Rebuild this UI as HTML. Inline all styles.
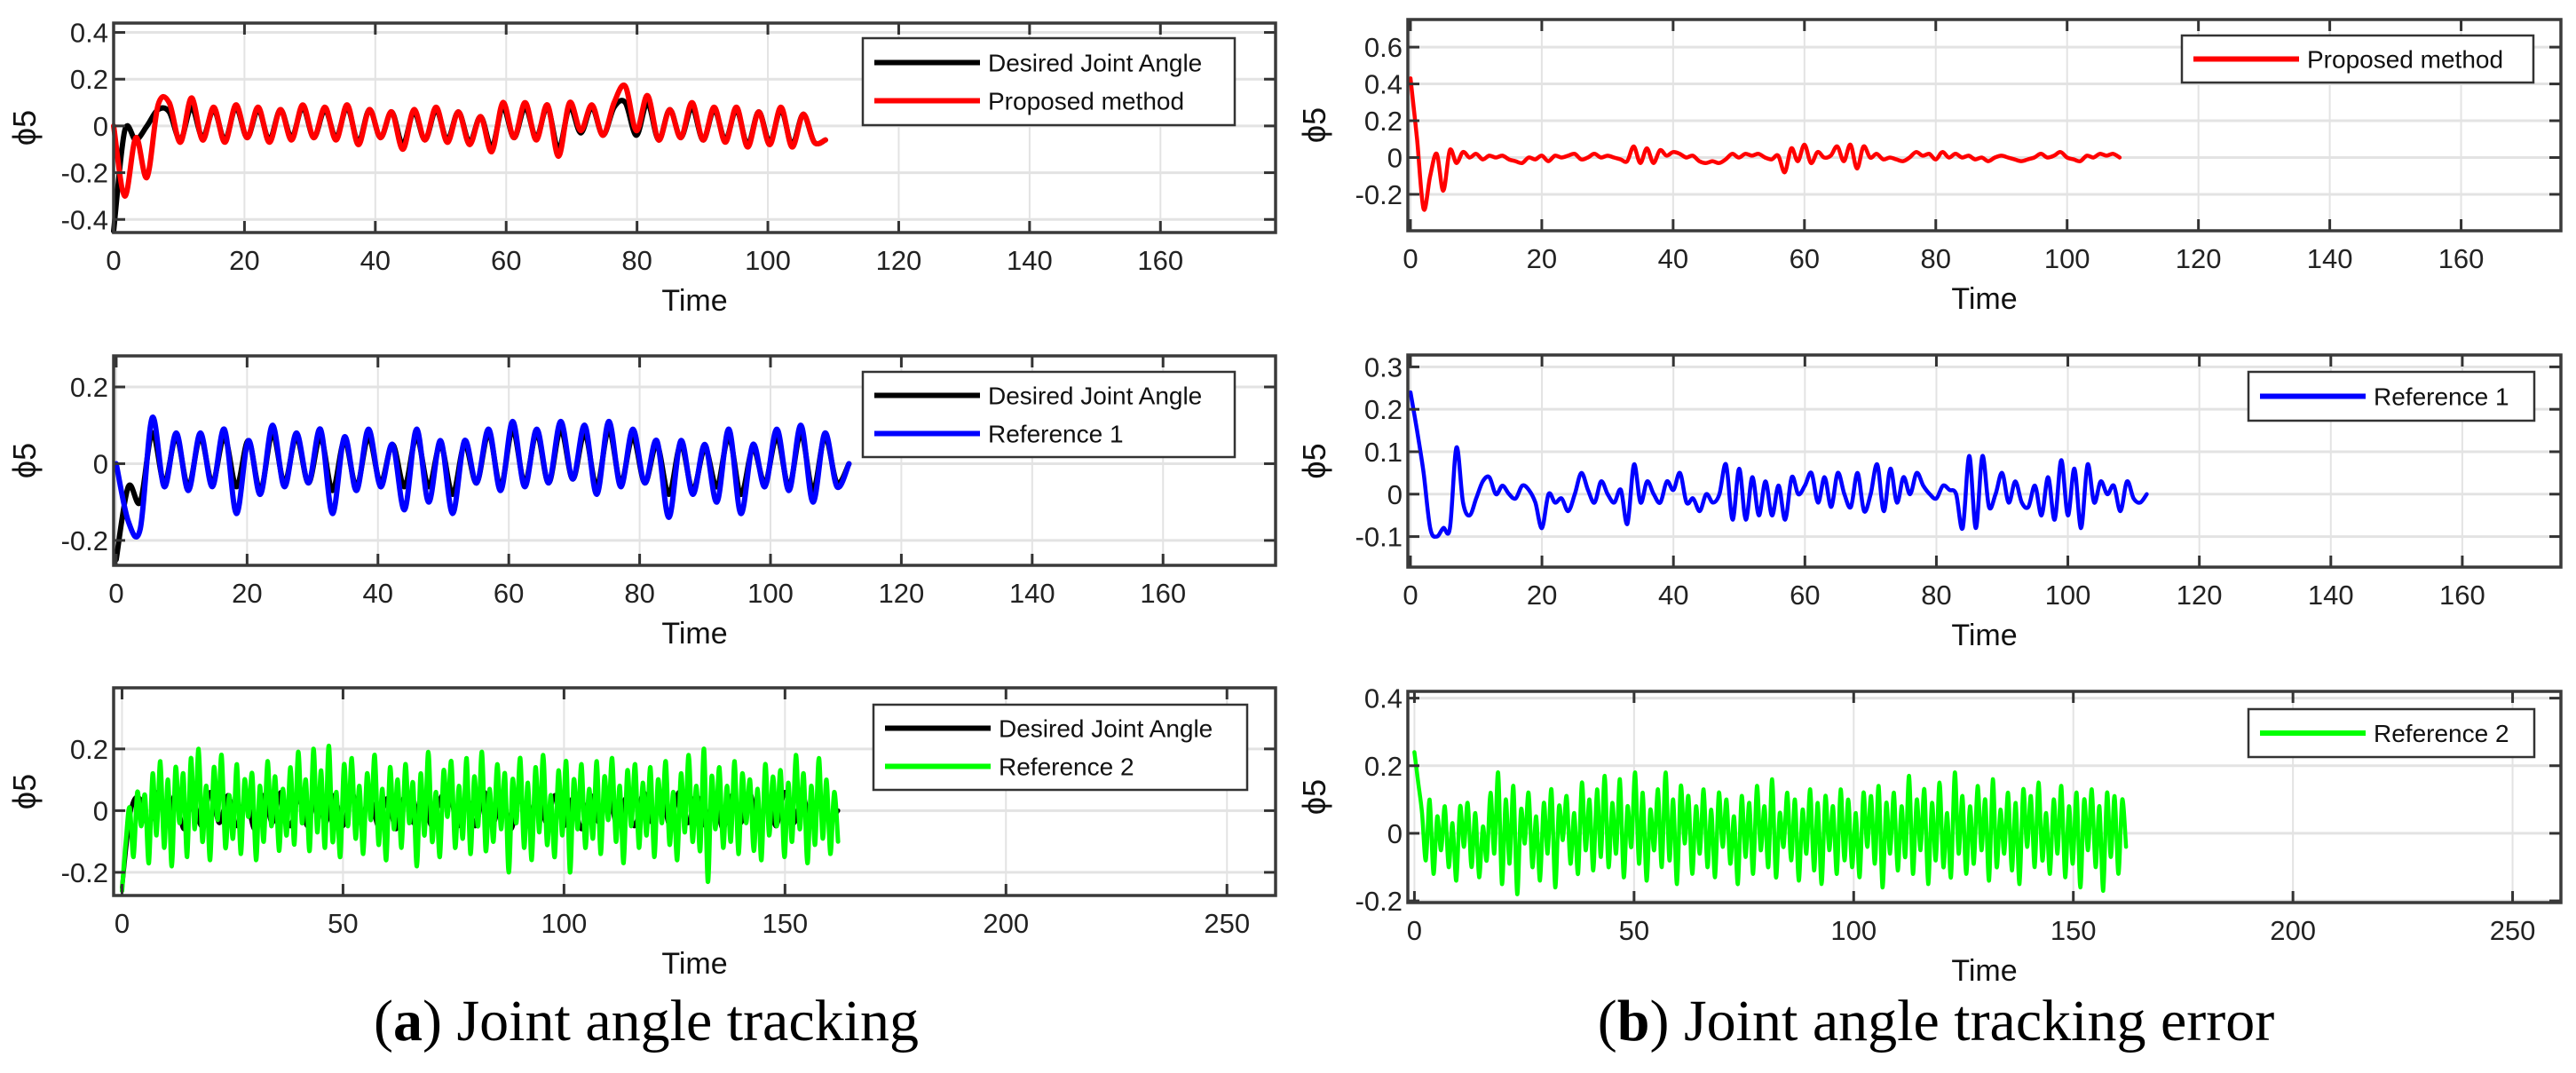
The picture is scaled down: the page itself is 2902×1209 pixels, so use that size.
<!DOCTYPE html>
<html><head><meta charset="utf-8"><style>
html,body{margin:0;padding:0;background:#fff;}
svg{display:block;font-family:"Liberation Sans",Arial,sans-serif;}
</style></head><body>
<svg id="fig" width="2902" height="1209" viewBox="0 0 2902 1209" xmlns="http://www.w3.org/2000/svg">
<text x="728" y="1172" text-anchor="middle" font-family="Liberation Serif, serif" font-size="66">(<tspan font-weight="bold">a</tspan>) Joint angle tracking</text>
<text x="2181" y="1172" text-anchor="middle" font-family="Liberation Serif, serif" font-size="66">(<tspan font-weight="bold">b</tspan>) Joint angle tracking error</text>
</svg>
<script>
// ---- data ----
const a1End = 108.8;
const a1Desired = [-0.45,-0.02,-0.06,0.0,0.07,0.06,-0.06,0.08,-0.05,0.07,-0.06,0.08,-0.05,0.07,-0.06,0.07,-0.05,0.08,-0.05,0.07,-0.05,0.08,-0.07,0.07,-0.05,0.06,-0.08,0.06,-0.06,0.07,-0.06,0.06,-0.07,0.04,-0.09,0.08,-0.05,0.08,-0.05,0.08,-0.1,0.08,-0.03,0.08,-0.04,0.08,0.1,-0.04,0.1,-0.06,0.07,-0.05,0.08,-0.06,0.07,-0.06,0.07,-0.08,0.06,-0.07,0.07,-0.08,0.05,-0.07,-0.06];
const a1Proposed = [0.0,-0.3,-0.05,-0.22,0.09,0.1,-0.07,0.12,-0.06,0.08,-0.07,0.09,-0.05,0.08,-0.07,0.07,-0.06,0.09,-0.05,0.08,-0.06,0.09,-0.08,0.07,-0.05,0.06,-0.1,0.07,-0.06,0.08,-0.07,0.06,-0.08,0.04,-0.11,0.1,-0.05,0.1,-0.06,0.09,-0.13,0.1,-0.02,0.09,-0.04,0.1,0.17,-0.02,0.13,-0.06,0.07,-0.05,0.1,-0.06,0.08,-0.07,0.08,-0.09,0.06,-0.08,0.08,-0.09,0.05,-0.07,-0.06];
const a2End = 112;
const a2Desired = [-0.25,-0.06,-0.1,0.08,-0.05,0.07,-0.06,0.07,-0.05,0.07,-0.06,0.06,-0.07,0.08,-0.05,0.07,-0.05,0.07,-0.07,0.06,-0.06,0.07,-0.05,0.05,-0.06,0.07,-0.06,0.05,-0.08,0.05,-0.05,0.08,-0.06,0.09,-0.05,0.08,-0.05,0.09,-0.04,0.08,-0.06,0.09,-0.05,0.07,-0.05,0.05,-0.08,0.05,-0.07,0.04,-0.06,0.07,-0.08,0.04,-0.05,0.07,-0.06,0.08,-0.07,0.07,-0.05,0.0];
const a2Reference1 = [0.0,-0.15,-0.17,0.12,-0.06,0.08,-0.07,0.08,-0.06,0.09,-0.13,0.06,-0.08,0.1,-0.06,0.08,-0.05,0.09,-0.13,0.07,-0.07,0.09,-0.06,0.05,-0.12,0.09,-0.1,0.06,-0.13,0.06,-0.05,0.09,-0.07,0.11,-0.06,0.09,-0.05,0.11,-0.04,0.1,-0.08,0.11,-0.06,0.09,-0.05,0.06,-0.14,0.06,-0.08,0.05,-0.1,0.09,-0.13,0.05,-0.06,0.09,-0.07,0.1,-0.1,0.08,-0.06,0.0];
const a3End = 162;
const a3Desired = [-0.25,0.0,0.04,-0.05,0.06,-0.04,0.05,-0.06,0.04,-0.05,0.06,-0.04,0.05,-0.05,0.04,-0.06,0.05,-0.04,0.06,-0.05,0.04,-0.05,0.06,-0.04,0.05,-0.05,0.06,-0.04,0.05,-0.05,0.04,-0.06,0.05,-0.04,0.06,-0.05,0.04,0.06,-0.05,0.04,-0.05,0.06,-0.04,0.05,-0.06,0.04,-0.05,0.06,-0.04,0.05,-0.05,0.04,-0.06,0.05,-0.04,0.06,-0.05,0.04,-0.05,0.06,-0.04,0.05,-0.05,0.06,-0.04,0.05,-0.05,0.04,-0.06,0.05,-0.04,0.06,-0.05,0.04,-0.05,0.06,-0.04,0.05,-0.05,0.04,-0.03,0.0];
const a3Reference2 = [-0.26,-0.1,0.01,-0.15,0.06,-0.05,0.05,-0.17,0.12,-0.08,0.16,-0.12,0.1,-0.18,0.14,-0.04,0.12,-0.15,0.17,-0.06,0.2,-0.1,0.08,-0.16,0.14,-0.03,0.18,-0.12,0.05,-0.09,0.15,-0.14,0.1,-0.02,0.12,-0.16,0.08,-0.1,0.16,-0.05,0.11,-0.13,0.07,-0.08,0.14,-0.11,0.19,-0.04,0.1,-0.13,0.2,-0.07,0.13,-0.12,0.21,-0.1,0.06,-0.15,0.15,-0.05,0.17,-0.09,0.08,-0.14,0.12,-0.03,0.18,-0.11,0.07,-0.16,0.14,-0.06,0.1,-0.12,0.15,-0.04,0.09,-0.18,0.12,-0.08,0.19,-0.1,0.06,-0.15,0.13,-0.02,0.16,-0.12,0.08,-0.09,0.17,-0.14,0.11,-0.05,0.19,-0.13,0.07,-0.1,0.15,-0.06,0.12,-0.2,0.1,-0.04,0.17,-0.12,0.09,-0.16,0.14,-0.07,0.18,-0.11,0.05,-0.15,0.13,-0.08,0.16,-0.2,0.1,-0.06,0.15,-0.12,0.07,-0.09,0.16,-0.14,0.11,-0.03,0.17,-0.1,0.08,-0.17,0.13,-0.05,0.15,-0.12,0.09,-0.08,0.14,-0.15,0.1,-0.04,0.16,-0.11,0.06,-0.16,0.12,-0.07,0.18,-0.1,0.08,-0.13,0.2,-0.23,0.11,-0.06,0.14,-0.12,0.08,-0.1,0.16,-0.14,0.12,-0.04,0.1,-0.13,0.07,-0.16,0.15,-0.08,0.11,-0.05,0.13,-0.15,0.09,-0.1,0.18,-0.06,0.12,-0.17,0.08,-0.11,0.17,-0.09,0.1,-0.14,0.06,-0.1];
const b1End = 108;
const b1Proposed = [0.43,0.1,-0.28,-0.1,0.02,-0.18,0.04,-0.03,0.03,0.0,0.02,-0.01,0.01,0.0,0.01,-0.01,-0.02,-0.03,0.0,-0.01,0.01,-0.02,0.01,0.0,0.01,0.02,-0.01,0.0,0.02,0.0,0.01,0.0,-0.01,-0.02,0.06,-0.03,0.05,-0.03,0.04,0.01,0.03,0.02,0.0,0.01,-0.02,-0.03,-0.02,-0.03,-0.01,0.02,0.0,0.02,0.01,0.02,0.0,-0.01,0.01,-0.08,0.05,-0.02,0.07,-0.03,0.03,0.0,0.01,0.06,-0.02,0.07,-0.06,0.06,0.0,0.02,-0.01,0.0,-0.01,-0.02,0.0,0.03,0.01,0.02,-0.01,0.03,0.0,0.02,0.0,0.01,-0.01,0.0,-0.02,0.0,0.01,0.0,-0.01,-0.02,-0.01,0.0,0.02,0.0,0.01,0.03,0.0,-0.01,-0.02,0.01,0.0,0.02,0.01,0.02,0.0];
const b2End = 112;
const b2Reference1 = [0.24,0.15,0.05,-0.08,-0.1,-0.08,-0.08,0.11,-0.02,-0.05,-0.01,0.03,0.04,0.0,0.02,0.0,-0.01,0.02,0.01,-0.02,-0.08,0.0,-0.02,-0.01,-0.04,0.0,0.05,0.01,-0.02,0.03,0.0,-0.02,0.01,-0.07,0.07,-0.02,0.03,0.0,-0.02,0.03,0.01,0.05,-0.02,-0.01,-0.04,0.0,-0.02,0.0,0.07,-0.06,0.06,-0.06,0.04,-0.05,0.03,-0.05,0.02,-0.06,0.04,0.0,0.02,0.05,-0.02,0.04,-0.03,0.05,0.0,-0.03,0.05,-0.04,0.0,0.07,-0.04,0.06,-0.02,0.04,0.0,0.05,0.02,0.0,-0.01,0.02,0.01,0.0,-0.08,0.09,-0.08,0.09,-0.03,0.0,0.05,-0.02,0.03,-0.02,-0.03,0.02,-0.05,0.04,-0.06,0.08,-0.05,0.06,-0.08,0.07,-0.02,0.03,0.0,0.02,-0.04,0.03,-0.01,-0.02,0.0];
const b3End = 162;
const b3Reference2 = [0.24,0.15,0.06,-0.08,0.1,-0.12,0.05,-0.05,0.08,-0.1,0.03,-0.14,0.08,-0.04,0.09,-0.1,0.06,-0.13,0.02,-0.08,0.12,-0.06,0.18,-0.15,0.1,-0.09,0.14,-0.18,0.07,-0.03,0.12,-0.1,0.05,-0.14,0.09,-0.06,0.13,-0.16,0.08,-0.02,0.11,-0.09,0.06,-0.12,0.15,-0.05,0.1,-0.11,0.13,-0.07,0.17,-0.1,0.09,-0.06,0.16,-0.13,0.08,-0.04,0.18,-0.09,0.12,-0.14,0.07,-0.05,0.13,-0.1,0.18,-0.08,0.1,-0.15,0.14,-0.03,0.11,-0.12,0.08,-0.06,0.13,-0.1,0.07,-0.13,0.12,-0.04,0.1,-0.09,0.05,-0.15,0.11,-0.07,0.09,-0.12,0.14,-0.05,0.08,-0.1,0.16,-0.13,0.06,-0.04,0.12,-0.08,0.1,-0.14,0.07,-0.06,0.13,-0.11,0.09,-0.15,0.11,-0.05,0.08,-0.12,0.13,-0.08,0.1,-0.1,0.06,-0.13,0.12,-0.04,0.11,-0.09,0.14,-0.16,0.09,-0.06,0.12,-0.11,0.08,-0.07,0.17,-0.12,0.1,-0.05,0.13,-0.15,0.09,-0.08,0.15,-0.1,0.06,-0.13,0.18,-0.06,0.11,-0.12,0.08,-0.09,0.14,-0.05,0.1,-0.14,0.16,-0.1,0.07,-0.06,0.12,-0.11,0.09,-0.15,0.13,-0.04,0.11,-0.1,0.15,-0.08,0.06,-0.12,0.1,-0.06,0.14,-0.13,0.08,-0.09,0.12,-0.16,0.1,-0.05,0.13,-0.1,0.08,-0.17,0.12,-0.07,0.11,-0.12,0.1,-0.04];
// tick labels
const xTicks175 = [0,20,40,60,80,100,120,140,160];
const xTicks260 = [0,50,100,150,200,250];
const yTicksA1 = [-0.4,-0.2,0,0.2,0.4];
const yTicksA2 = [-0.2,0,0.2];
const yTicksA3 = [-0.2,0,0.2];
const yTicksB1 = [-0.2,0,0.2,0.4,0.6];
const yTicksB2 = [-0.1,0,0.1,0.2,0.3];
const yTicksB3 = [-0.2,0,0.2,0.4];

const NS = "http://www.w3.org/2000/svg";
const svg = document.getElementById('fig');
function mk(tag, attrs, parent){
  const e = document.createElementNS(NS, tag);
  for (const k in attrs) e.setAttribute(k, attrs[k]);
  (parent||svg).appendChild(e);
  return e;
}
function fmt(v){ if (Math.abs(v)<1e-9) return "0"; return String(v); }
function smoothPath(pts){
  let d = 'M' + pts[0][0].toFixed(1) + ',' + pts[0][1].toFixed(1);
  for (let i = 0; i < pts.length - 1; i++) {
    const p0 = pts[Math.max(0,i-1)], p1 = pts[i], p2 = pts[i+1], p3 = pts[Math.min(pts.length-1,i+2)];
    const c1x = p1[0] + (p2[0]-p0[0])/6, c1y = p1[1] + (p2[1]-p0[1])/6;
    const c2x = p2[0] - (p3[0]-p1[0])/6, c2y = p2[1] - (p3[1]-p1[1])/6;
    d += 'C' + c1x.toFixed(1) + ',' + c1y.toFixed(1) + ' ' + c2x.toFixed(1) + ',' + c2y.toFixed(1) + ' ' + p2[0].toFixed(1) + ',' + p2[1].toFixed(1);
  }
  return d;
}

function panel(p){
  const g = mk('g', {});
  
  
  const sx = v => p.L + (v - p.x0) / (p.x1 - p.x0) * (p.R - p.L);
  const sy = v => p.B - (v - p.y0) / (p.y1 - p.y0) * (p.B - p.T);
  mk('rect', {x:p.L, y:p.T, width:p.R-p.L, height:p.B-p.T, fill:'#fff'}, g);
  p.xt.forEach(v => { const l = mk('line', {x1:sx(v), x2:sx(v), y1:p.T, y2:p.B, stroke:'#e3e3e3', 'stroke-width':2}, g);
      });
  p.yt.forEach(v => { const l = mk('line', {x1:p.L, x2:p.R, y1:sy(v), y2:sy(v), stroke:'#e3e3e3', 'stroke-width':3}, g);
      });
  p.series.forEach(s => {
    const dt = s.end / (s.vals.length - 1);
    const pts = s.vals.map((v,i) => [sx(i*dt), sy(v)]);
    const path = mk('path', {d:smoothPath(pts), fill:'none', stroke:s.color, 'stroke-width':s.w, 'stroke-linejoin':'round', 'stroke-linecap':'round'}, g);
    
    
  });
  p.xt.forEach(v => {
    mk('line', {x1:sx(v), x2:sx(v), y1:p.T, y2:p.T+13, stroke:'#333', 'stroke-width':3}, g);
    mk('line', {x1:sx(v), x2:sx(v), y1:p.B, y2:p.B-13, stroke:'#333', 'stroke-width':3}, g);
    const t = mk('text', {x:sx(v), y:p.B+42, 'text-anchor':'middle', 'font-size':31, fill:'#222'}, g);
    t.textContent = fmt(v);
    
    
  });
  p.yt.forEach(v => {
    mk('line', {x1:p.L, x2:p.L+13, y1:sy(v), y2:sy(v), stroke:'#333', 'stroke-width':3}, g);
    mk('line', {x1:p.R, x2:p.R-13, y1:sy(v), y2:sy(v), stroke:'#333', 'stroke-width':3}, g);
    const t = mk('text', {x:p.L-6, y:sy(v)+11, 'text-anchor':'end', 'font-size':31, fill:'#222'}, g);
    t.textContent = fmt(v);
    
    
  });
  mk('rect', {x:p.L, y:p.T, width:p.R-p.L, height:p.B-p.T, fill:'none', stroke:'#3a3a3a', 'stroke-width':3.5}, g);
  const xl = mk('text', {x:(p.L+p.R)/2, y:p.B+88, 'text-anchor':'middle', 'font-size':34, fill:'#111'}, g);
  xl.textContent = 'Time';
  
  
  const cy = (p.T+p.B)/2;
  const yl = mk('text', {x:p.ylx, y:cy, 'text-anchor':'middle', 'font-size':36, fill:'#111', transform:'rotate(-90 '+p.ylx+' '+cy+')'}, g);
  yl.textContent = 'ϕ5';
  
  
  const lg = p.leg;
  const lgG = mk('g', {}, g);
  
  
  mk('rect', {x:lg.x, y:lg.y, width:lg.w, height:lg.h, fill:'#fff', stroke:'#333', 'stroke-width':2.5}, lgG);
  lg.items.forEach((it, i) => {
    const ry = lg.y + lg.h/2 + (i - (lg.items.length-1)/2) * 43;
    const ln = mk('line', {x1:lg.x+13, x2:lg.x+132, y1:ry, y2:ry, stroke:it.color, 'stroke-width':6}, lgG);
    
    
    const tx = mk('text', {x:lg.x+141, y:ry+10, 'font-size':28, fill:'#111'}, lgG);
    tx.textContent = it.label;
    
    
  });
}

const leftL = 128, leftR = 1437, rightL = 1586, rightR = 2885;
panel({name:'panel-a1', L:leftL, R:leftR, T:26, B:262, x0:0, x1:177.6, y0:-0.456, y1:0.44, xt:xTicks175, yt:yTicksA1, ylx:40,
  series:[{name:'desired-line-a1', vals:a1Desired, end:a1End, color:'#000', w:6},{name:'proposed-line-a1', vals:a1Proposed, end:a1End, color:'#ff0000', w:6}],
  leg:{x:972, y:43, w:419, h:98, items:[{label:'Desired Joint Angle', color:'#000'},{label:'Proposed method', color:'#ff0000'}]}});
panel({name:'panel-a2', L:leftL, R:leftR, T:401, B:637, x0:-0.4, x1:177.2, y0:-0.265, y1:0.281, xt:xTicks175, yt:yTicksA2, ylx:40,
  series:[{name:'desired-line-a2', vals:a2Desired, end:a2End, color:'#000', w:6},{name:'reference1-line-a2', vals:a2Reference1, end:a2End, color:'#0000ff', w:6}],
  leg:{x:972, y:419, w:419, h:96, items:[{label:'Desired Joint Angle', color:'#000'},{label:'Reference 1', color:'#0000ff'}]}});
panel({name:'panel-a3', L:leftL, R:leftR, T:775, B:1009, x0:-1.9, x1:261, y0:-0.275, y1:0.398, xt:xTicks260, yt:yTicksA3, ylx:40,
  series:[{name:'desired-line-a3', vals:a3Desired, end:a3End, color:'#000', w:5},{name:'reference2-line-a3', vals:a3Reference2, end:a3End, color:'#00ff00', w:5}],
  leg:{x:984, y:794, w:421, h:96, items:[{label:'Desired Joint Angle', color:'#000'},{label:'Reference 2', color:'#00ff00'}]}});
panel({name:'panel-b1', L:rightL, R:rightR, T:22, B:260, x0:-0.4, x1:175.2, y0:-0.398, y1:0.75, xt:xTicks175, yt:yTicksB1, ylx:1493,
  series:[{name:'proposed-error-line', vals:b1Proposed, end:b1End, color:'#ff0000', w:4.5}],
  leg:{x:2458, y:40, w:396, h:53, items:[{label:'Proposed method', color:'#ff0000'}]}});
panel({name:'panel-b2', L:rightL, R:rightR, T:400, B:639, x0:-0.4, x1:175, y0:-0.172, y1:0.328, xt:xTicks175, yt:yTicksB2, ylx:1493,
  series:[{name:'reference1-error-line', vals:b2Reference1, end:b2End, color:'#0000ff', w:4.5}],
  leg:{x:2533, y:419, w:322, h:55, items:[{label:'Reference 1', color:'#0000ff'}]}});
panel({name:'panel-b3', L:rightL, R:rightR, T:779, B:1017, x0:-1.5, x1:261, y0:-0.205, y1:0.42, xt:xTicks260, yt:yTicksB3, ylx:1493,
  series:[{name:'reference2-error-line', vals:b3Reference2, end:b3End, color:'#00ff00', w:4.5}],
  leg:{x:2533, y:799, w:322, h:54, items:[{label:'Reference 2', color:'#00ff00'}]}});
</script>
</body></html>
